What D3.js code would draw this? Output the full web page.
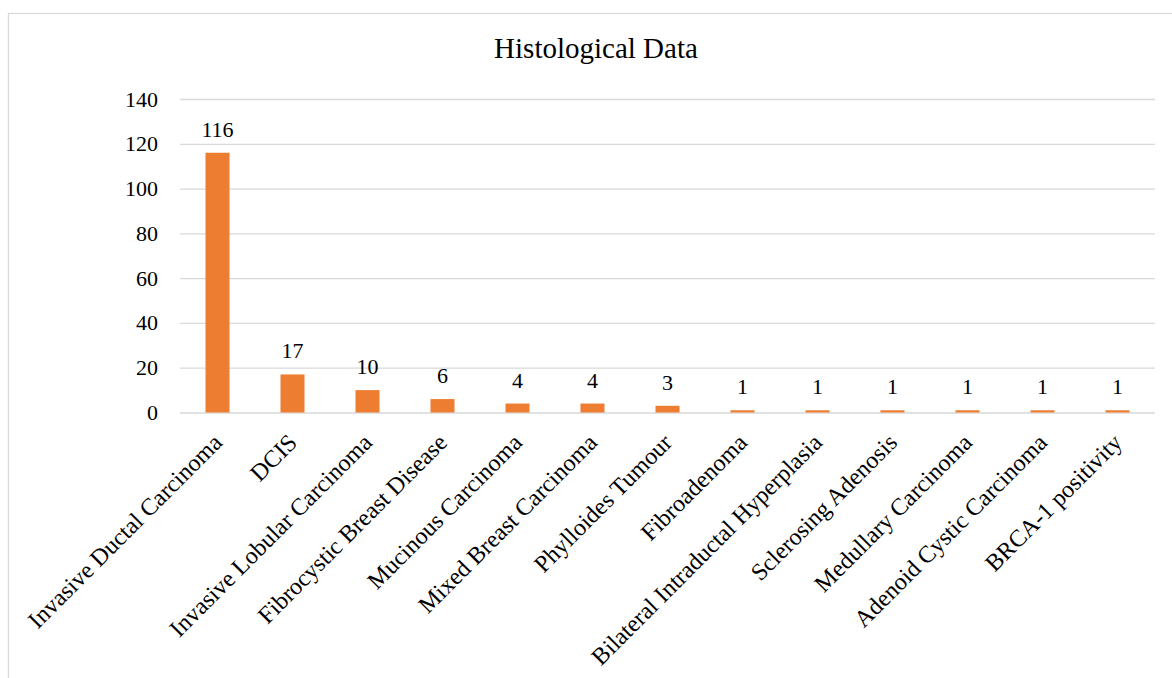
<!DOCTYPE html>
<html>
<head>
<meta charset="utf-8">
<script src="https://cdn.jsdelivr.net/npm/d3@7"></script>
<style>
  html, body { margin: 0; padding: 0; background: #fff; }
  svg { display: block; }
  svg text { font-family: "Liberation Serif", "Times New Roman", serif; fill: #000; }
</style>
</head>
<body>
<svg id="chart" width="1172" height="678"></svg>
<script>
// Histological diagnoses and their case counts
const categories = [
  "Invasive Ductal Carcinoma",
  "DCIS",
  "Invasive Lobular Carcinoma",
  "Fibrocystic Breast Disease",
  "Mucinous Carcinoma",
  "Mixed Breast Carcinoma",
  "Phylloides Tumour",
  "Fibroadenoma",
  "Bilateral Intraductal Hyperplasia",
  "Sclerosing Adenosis",
  "Medullary Carcinoma",
  "Adenoid Cystic Carcinoma",
  "BRCA-1 positivity"
];
const counts = [116, 17, 10, 6, 4, 4, 3, 1, 1, 1, 1, 1, 1];
const yTicks = [0, 20, 40, 60, 80, 100, 120, 140];
const chartTitle = "Histological Data";

const serif = "Liberation Serif, Times New Roman, serif";
const svg = d3.select("#chart");
const W = 1172, H = 678;
const plot = { left: 180, right: 1155, top: 99, bottom: 412.5 };

// outer chart frame (runs past the bottom/right of the view)
svg.append("rect")
  .attr("x", 8.5).attr("y", 13.5)
  .attr("width", W + 20).attr("height", H + 20)
  .attr("fill", "none").attr("stroke", "#d9d9d9").attr("stroke-width", 1.3);

const x = d3.scaleBand()
  .domain(categories)
  .range([plot.left, plot.right])
  .paddingInner(0.68)
  .paddingOuter(0.34);

const y = d3.scaleLinear()
  .domain([0, 140])
  .range([plot.bottom, plot.top]);

// horizontal gridlines + tick labels
const yAxis = d3.axisLeft(y)
  .tickValues(yTicks)
  .tickSize(-(plot.right - plot.left))
  .tickPadding(22)
  .tickFormat(d3.format("d"));

const gy = svg.append("g")
  .attr("transform", `translate(${plot.left},0)`)
  .call(yAxis)
  .attr("font-family", serif)
  .attr("font-size", 22);
gy.select(".domain").remove();
gy.selectAll(".tick line").attr("stroke", "#d9d9d9").attr("stroke-width", 1.3);
gy.selectAll(".tick text").attr("fill", "#000");

// bars
const data = categories.map((c, i) => ({ c, v: counts[i] }));
svg.append("g").selectAll("rect")
  .data(data)
  .join("rect")
  .attr("x", d => x(d.c))
  .attr("width", x.bandwidth())
  .attr("y", d => y(d.v))
  .attr("height", d => y(0) - y(d.v))
  .attr("fill", "#ED7D31");

// value labels
svg.append("g").selectAll("text")
  .data(data)
  .join("text")
  .attr("x", d => x(d.c) + x.bandwidth() / 2)
  .attr("y", d => y(d.v) - 16)
  .attr("text-anchor", "middle")
  .attr("font-family", serif)
  .attr("font-size", 22)
  .text(d => d.v);

// rotated category labels
svg.append("g").selectAll("text")
  .data(categories)
  .join("text")
  .attr("transform", d => `translate(${x(d) + x.bandwidth() / 2 + 6},444) rotate(-45)`)
  .attr("text-anchor", "end")
  .attr("font-family", serif)
  .attr("font-size", 24)
  .text(d => d);

// title
svg.append("text")
  .attr("x", 596).attr("y", 58)
  .attr("text-anchor", "middle")
  .attr("font-family", serif)
  .attr("font-size", 29)
  .text(chartTitle);
</script>
</body>
</html>
